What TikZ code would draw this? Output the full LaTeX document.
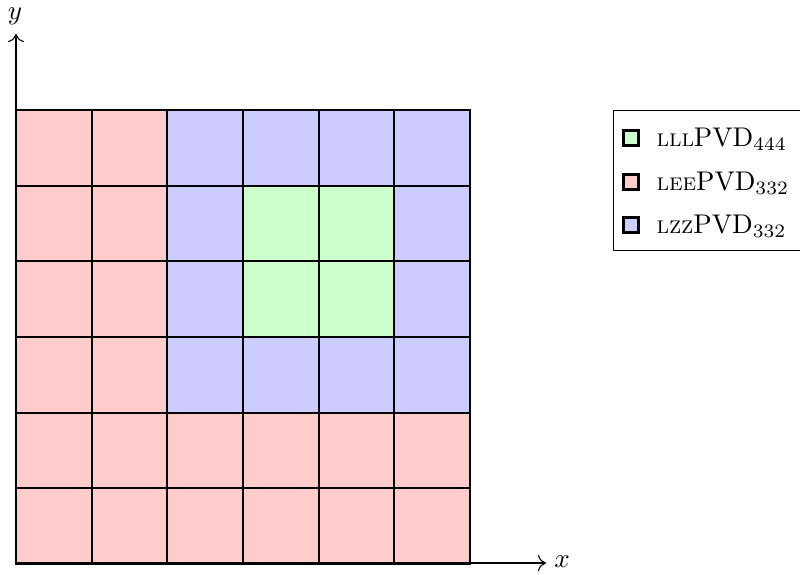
\documentclass[tikz,border=0pt]{standalone}
\usetikzlibrary{arrows.meta}
\begin{document}
\begin{tikzpicture}[x=0.37pt,y=-0.37pt,
  cellR/.style={fill=red!20,draw=black,line width=0.8pt},
  cellB/.style={fill=blue!20,draw=black,line width=0.8pt},
  cellG/.style={fill=green!20,draw=black,line width=0.8pt},
  axisline/.style={draw=black,line width=0.4pt,-{To[length=3pt,width=6pt]}},
  legmark/.style={draw=black,line width=0.9pt,minimum size=5.4pt,inner sep=0pt},
  legtext/.style={anchor=west,inner sep=0pt}]
\useasboundingbox (0,0) rectangle (800,575);
\def\cw{75.667}
\foreach \row/\cols in {0/{R,R,B,B,B,B},1/{R,R,B,G,G,B},2/{R,R,B,G,G,B},3/{R,R,B,B,B,B},4/{R,R,R,R,R,R},5/{R,R,R,R,R,R}}{
  \foreach \c [count=\i from 0] in \cols {
    \path[cell\c] ({16+\i*\cw},{110+\row*\cw}) rectangle ({16+(\i+1)*\cw},{110+(\row+1)*\cw});
  }
}
\coordinate (o) at (16,563);
\coordinate (xe) at (546,563);
\coordinate (ye) at (16,34);
\draw[axisline] (o) -- (xe);
\draw[axisline] (o) -- (ye);
\node (xl) at (562,562) {$x$};
\node (yl) at (15,16) {$y$};
\node[draw=black,line width=0.4pt,inner sep=0pt,anchor=north west,minimum height=140*0.37pt,minimum width=200*0.37pt] (leg) at (613,110) {};
\node[legmark,fill=green!20] (m1) at (631,138) {};
\node[legmark,fill=red!20] (m2) at (631,182) {};
\node[legmark,fill=blue!20] (m3) at (631,225) {};
\node[legtext] (t1) at (656,139) {{\small\textsc{lll}}PVD$_{444}$};
\node[legtext] (t2) at (656,183) {{\small\textsc{lee}}PVD$_{332}$};
\node[legtext] (t3) at (656,226) {{\small\textsc{lzz}}PVD$_{332}$};
\end{tikzpicture}
\end{document}
